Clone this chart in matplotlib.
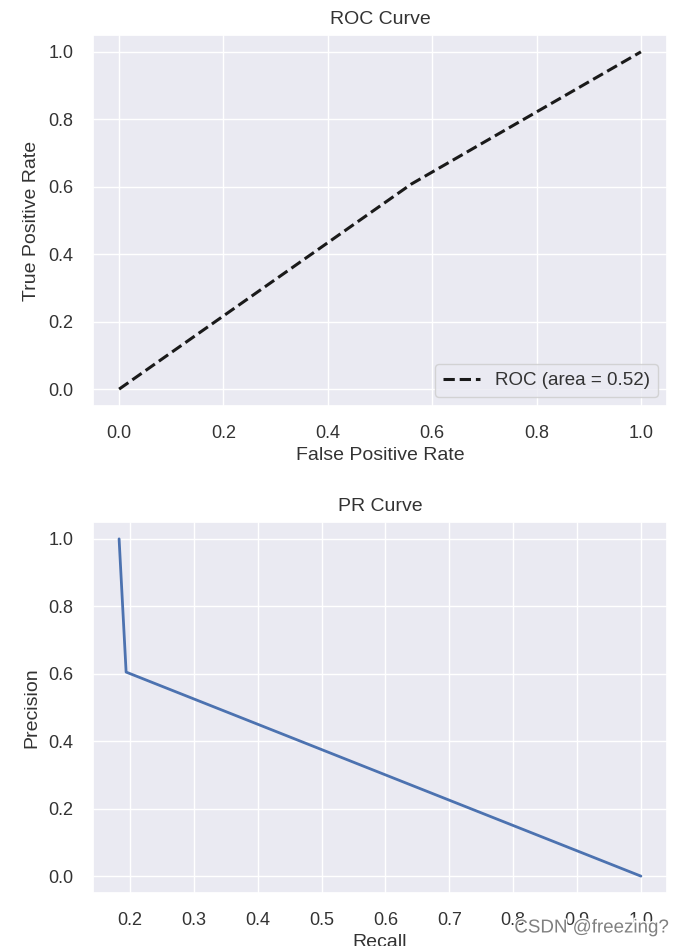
import matplotlib
matplotlib.use("Agg")
import matplotlib.pyplot as plt
import matplotlib.patheffects as pe
import seaborn as sns

sns.set_theme(style="darkgrid", context="notebook")
plt.rcParams['font.family'] = ['Liberation Sans', 'DejaVu Sans']
plt.rcParams.update({
    'xtick.labelsize': 13, 'ytick.labelsize': 13,
    'axes.labelsize': 14, 'axes.titlesize': 14,
    'legend.fontsize': 13.5,
    'text.color': '#333333', 'axes.labelcolor': '#333333',
    'xtick.color': '#333333', 'ytick.color': '#333333',
    'xtick.major.pad': 8, 'ytick.major.pad': 8,
})

# ROC data
fpr = [0.0, 0.56, 1.0]
tpr = [0.0, 0.608, 1.0]
roc_auc = 0.52

# PR data
recall = [0.183, 0.194, 1.0]
precision = [1.0, 0.605, 0.0]

fig = plt.figure(figsize=(6.86, 9.46), dpi=100)
ax1 = fig.add_axes([93/686, 1-406/946, 574/686, 371/946])
ax2 = fig.add_axes([93/686, 1-893/946, 574/686, 371/946])

ax1.plot(fpr, tpr, 'k--', lw=2.2, label='ROC (area = %0.2f)' % roc_auc)
ax1.set_xlabel('False Positive Rate', labelpad=3)
ax1.set_ylabel('True Positive Rate', labelpad=6)
ax1.set_title('ROC Curve', pad=8)
ax1.legend(loc='lower right')

ax2.plot(recall, precision, color='#4C72B0', lw=2)
ax2.set_xlabel('Recall', labelpad=3)
ax2.set_ylabel('Precision', labelpad=6)
ax2.set_title('PR Curve', pad=8)

fig.text(0.975, 1-928/946, 'CSDN @freezing?', ha='right', va='center',
         fontsize=13.5, color='#808080',
         path_effects=[pe.withStroke(linewidth=2, foreground='white')])

fig.savefig('out.png', dpi=100)
